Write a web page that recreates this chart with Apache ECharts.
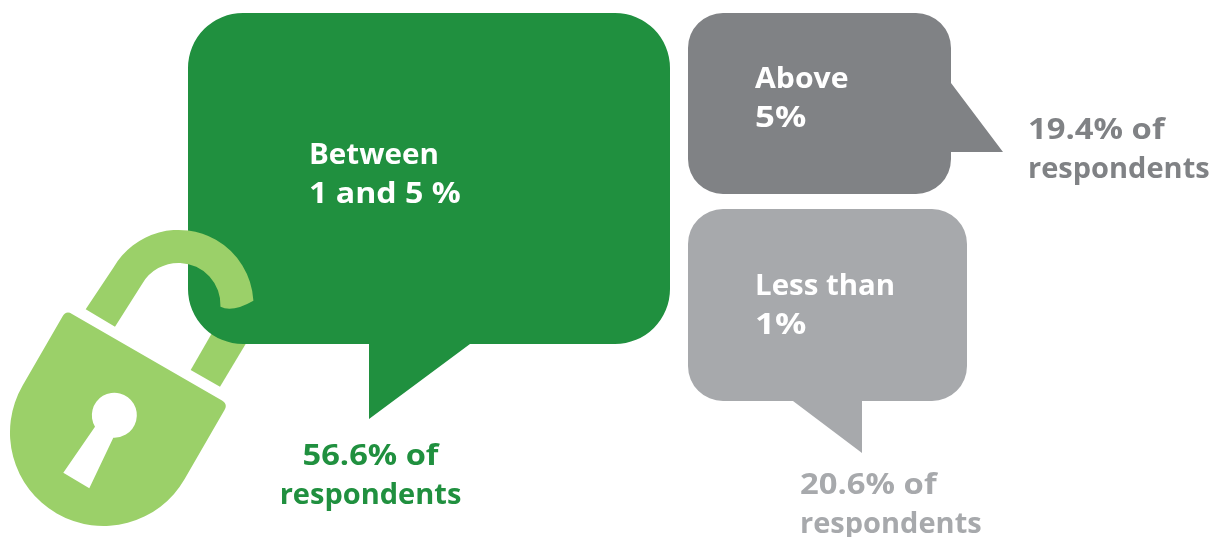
<!DOCTYPE html>
<html>
<head>
<meta charset="utf-8">
<style>html,body{margin:0;padding:0;background:#fff}#c{width:1221px;height:537px}</style>
<script src="https://cdn.jsdelivr.net/npm/echarts@6/dist/echarts.min.js"></script>
</head>
<body>
<div id="c"></div>
<script>
// Survey answers
const categories = [['Between', '1 and 5 %'], ['Above', '5%'], ['Less than', '1%']];
const shares = [56.6, 19.4, 20.6];

// Palette for each answer
const colours = ['#20903f', '#808285', '#a7a9ac'];
const lockColour = '#9bd069';

// Speech bubble outlines and where their text sits
const bubbleOutlines = [
  'M243,13 H615 A55,55 0 0 1 670,68 V289 A55,55 0 0 1 615,344 H470 L369,419 V344 H243 A55,55 0 0 1 188,289 V68 A55,55 0 0 1 243,13 Z',
  'M723,13 H916 A35,35 0 0 1 951,48 V83 L1003,152 H951 V159 A35,35 0 0 1 916,194 H723 A35,35 0 0 1 688,159 V48 A35,35 0 0 1 723,13 Z',
  'M723,209 H932 A35,35 0 0 1 967,244 V366 A35,35 0 0 1 932,401 H862 V453 L793,401 H723 A35,35 0 0 1 688,366 V244 A35,35 0 0 1 723,209 Z'
];
const answerAnchors = [[309, 141], [755, 65], [755, 272]];
const shareAnchors = [[370.5, 442, 'center'], [1028, 116, 'left'], [800, 471, 'left']];

// Horizontal stretch per text line: the figures and spaces run wide in this lettering
const answerStretch = [[1.02, 1.11], [1.04, 1.2], [1.015, 1.2]];
const shareStretch = [1.125, 1.13, 1.13];

// Padlock outlines, split so the hook can sit in front of the green bubble
const lockBehind = [
  ['M190.7,370 L212,333 L250,336.7 L220,386.7 Z', lockColour],
  ['M62.5,316.5 Q66,310.4 72,313.9 L222,400.5 Q228,404 224.5,410 L184.5,479.25 A93.5,93.5 0 0 1 22.5,385.75 Z', lockColour],
  ['M95,426.7 A22.5,22.5 0 1 1 113.3,437.7 L89.3,488.3 L63.3,472.7 Z', '#fff']
];
const lockFront = [
  ['M85.7,309.3 L113.5,267.5 A75,75 0 0 1 253.4,300.7 Q232,313 220.5,306.7 A42,42 0 0 0 142.1,284 L115,326.7 Z', lockColour]
];

const FONT = 'bold 29px "Open Sans", sans-serif';
const LINE = 39;

// One line of text, stretched sideways about its own anchor
function textLine(str, x, y, align, fill, stretch) {
  return {
    type: 'text',
    x: x, y: y,
    scaleX: stretch,
    style: { x: 0, y: 0, text: str, fill: fill, font: FONT, align: align, verticalAlign: 'top' }
  };
}

function drawBubble(params, api) {
  const i = params.dataIndex;
  const fill = colours[i];
  const share = api.value(0);
  const a = answerAnchors[i];
  const s = shareAnchors[i];
  return {
    type: 'group',
    children: [
      { type: 'path', shape: { pathData: bubbleOutlines[i] }, style: { fill: fill } },
      textLine(categories[i][0], a[0], a[1], 'left', '#fff', answerStretch[i][0]),
      textLine(categories[i][1], a[0], a[1] + LINE, 'left', '#fff', answerStretch[i][1]),
      textLine(share + '% of', s[0], s[1], s[2], fill, shareStretch[i]),
      textLine('respondents', s[0], s[1] + LINE, s[2], fill, 1)
    ]
  };
}

function lockSeries(parts, z) {
  return {
    type: 'custom',
    coordinateSystem: 'none',
    z: z,
    silent: true,
    renderItem: function () {
      return {
        type: 'group',
        children: parts.map(function (p) {
          return { type: 'path', shape: { pathData: p[0] }, style: { fill: p[1] } };
        })
      };
    },
    data: [[0]]
  };
}

const chart = echarts.init(document.getElementById('c'), null, { renderer: 'canvas' });
chart.setOption({
  animation: false,
  backgroundColor: '#fff',
  series: [
    lockSeries(lockBehind, 1),
    {
      type: 'custom',
      coordinateSystem: 'none',
      z: 2,
      silent: true,
      renderItem: drawBubble,
      data: shares.map(function (s) { return [s]; })
    },
    lockSeries(lockFront, 5)
  ]
});
</script>
</body>
</html>
